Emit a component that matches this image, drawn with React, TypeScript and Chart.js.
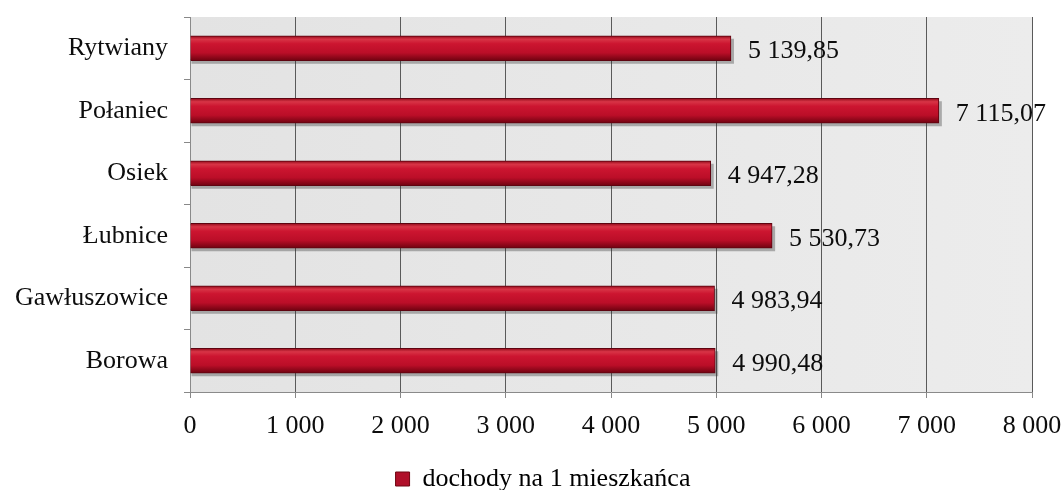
import React, { useEffect, useRef } from "react";
import { Chart, registerables } from "chart.js";

Chart.register(...registerables);

const categories = ["Rytwiany", "Połaniec", "Osiek", "Łubnice", "Gawłuszowice", "Borowa"];
const values = [5139.85, 7115.07, 4947.28, 5530.73, 4983.94, 4990.48];
const seriesLabel = "dochody na 1 mieszkańca";
const xTickLabels = ["0", "1 000", "2 000", "3 000", "4 000", "5 000", "6 000", "7 000", "8 000"];

const FONT = "'Liberation Serif', 'Times New Roman', serif";
const TEXT = "#0d0d0d";

function formatPL(v: number): string {
  const [intPart, dec] = v.toFixed(2).split(".");
  const withSep = intPart.replace(/\B(?=(\d{3})+(?!\d))/g, " ");
  return withSep + "," + dec;
}

const BAR_T = 25;

const plotBg = {
  id: "plotBg",
  beforeDraw(chart: any) {
    const { ctx, chartArea } = chart;
    if (!chartArea) return;
    ctx.save();
    const g = ctx.createLinearGradient(chartArea.left, 0, chartArea.right, 0);
    g.addColorStop(0, "#e3e3e3");
    g.addColorStop(1, "#ececec");
    ctx.fillStyle = g;
    ctx.fillRect(chartArea.left, chartArea.top, chartArea.right - chartArea.left, chartArea.bottom - chartArea.top);
    ctx.restore();
  },
};

const legendShift = {
  id: "legendShift",
  afterLayout(chart: any) {
    const lg = chart.legend;
    if (!lg) return;
    lg.left += 27;
    lg.right += 27;
  },
};

const barShadow = {
  id: "barShadow",
  beforeDatasetsDraw(chart: any) {
    const { ctx } = chart;
    const meta = chart.getDatasetMeta(0);
    ctx.save();
    meta.data.forEach((el: any) => {
      const h = el.height;
      ctx.fillStyle = "rgba(50,50,50,0.35)";
      ctx.fillRect(el.base + 1, el.y - h / 2 + 3, el.x - el.base + 2, h);
    });
    ctx.restore();
  },
};

const valueLabels = {
  id: "valueLabels",
  afterDatasetsDraw(chart: any) {
    const { ctx } = chart;
    const meta = chart.getDatasetMeta(0);
    ctx.save();
    ctx.font = `26px ${FONT}`;
    ctx.fillStyle = TEXT;
    ctx.textAlign = "left";
    ctx.textBaseline = "middle";
    meta.data.forEach((el: any, i: number) => {
      ctx.fillText(formatPL(values[i]), el.x + 17, el.y + 3);
    });
    ctx.restore();
  },
};

export default function App() {
  const ref = useRef<HTMLCanvasElement | null>(null);

  useEffect(() => {
    if (!ref.current) return;
    const chart = new Chart(ref.current, {
      type: "bar",
      data: {
        labels: categories,
        datasets: [
          {
            label: seriesLabel,
            data: values,
            barThickness: BAR_T,
            borderColor: "#5e0410",
            borderWidth: 1,
            borderSkipped: "start",
            backgroundColor: (c: any) => {
              const chartObj = c.chart;
              if (!chartObj.chartArea || c.type !== "data") return "#c0102a";
              const yScale = chartObj.scales.y;
              const cy = yScale.getPixelForValue(c.dataIndex);
              const g = chartObj.ctx.createLinearGradient(0, cy - BAR_T / 2, 0, cy + BAR_T / 2);
              g.addColorStop(0, "#8e0818");
              g.addColorStop(0.14, "#d83446");
              g.addColorStop(0.32, "#cc1530");
              g.addColorStop(0.68, "#bb0e28");
              g.addColorStop(1, "#6e0210");
              return g;
            },
          } as any,
        ],
      },
      options: {
        indexAxis: "y",
        responsive: true,
        maintainAspectRatio: false,
        animation: false,
        layout: { padding: { left: 0, right: 29, top: 17, bottom: 0 } },
        scales: {
          x: {
            min: 0,
            max: 8000,
            ticks: {
              stepSize: 1000,
              color: TEXT,
              font: { family: FONT, size: 26 },
              padding: 13,
              maxRotation: 0,
              callback: (_v: any, i: number) => xTickLabels[i],
            },
            grid: {
              color: "#5a5a5a",
              lineWidth: 1,
              tickLength: 6,
              tickColor: "#888888",
            },
            border: { color: "#8a8a8a", width: 1 },
            afterFit: (s: any) => {
              s.height = 64;
              s.paddingLeft = 0;
              s.paddingRight = 0;
            },
          },
          y: {
            ticks: {
              color: TEXT,
              font: { family: FONT, size: 26 },
              padding: 16,
            },
            grid: {
              drawOnChartArea: false,
              tickLength: 6,
              tickColor: "#888888",
              offset: true,
            },
            border: { color: "#8a8a8a", width: 1 },
            afterFit: (s: any) => {
              s.width = 190;
              s.paddingTop = 0;
              s.paddingBottom = 0;
            },
          },
        },
        plugins: {
          legend: {
            position: "bottom",
            labels: {
              color: TEXT,
              font: { family: FONT, size: 26 },
              boxWidth: 14,
              boxHeight: 14,
              padding: 10,
              generateLabels: () => [
                {
                  text: seriesLabel,
                  fillStyle: "#b0102a",
                  strokeStyle: "#6e0612",
                  lineWidth: 1,
                  hidden: false,
                  datasetIndex: 0,
                } as any,
              ],
            },
          },
          tooltip: { enabled: false },
        },
      },
      plugins: [plotBg, legendShift, barShadow, valueLabels],
    });
    return () => chart.destroy();
  }, []);

  return (
    <div style={{ position: "fixed", left: 0, top: 0, width: 1061, height: 502, background: "#ffffff" }}>
      <canvas ref={ref} />
    </div>
  );
}
